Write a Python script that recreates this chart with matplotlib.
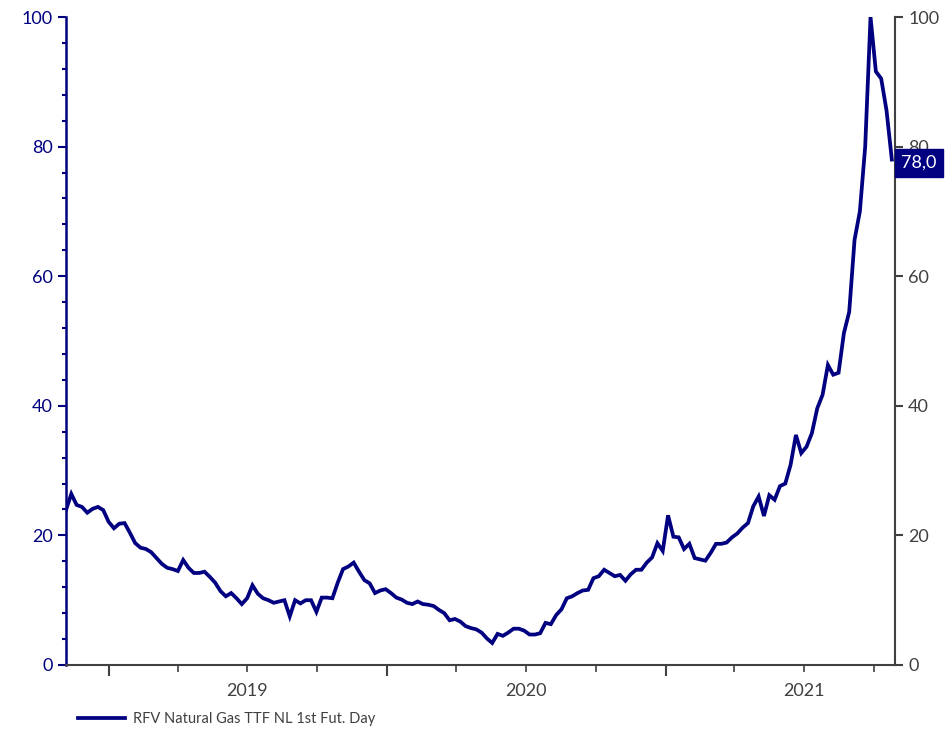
#!/usr/bin/env python3
"""Weekly TTF front-month gas price, late 2018 to late 2021."""

import matplotlib

matplotlib.use("Agg")
import matplotlib.dates as mdates
import matplotlib.pyplot as plt
from matplotlib.ticker import FuncFormatter, MultipleLocator
import pandas as pd

NAVY = "#000080"
GREY = "#404040"

plt.rcParams["font.family"] = ["Lato", "DejaVu Sans"]

SERIES_NAME = "RFV Natural Gas TTF NL 1st Fut. Day"
START = "2018-11-05"
LAST_LABEL = "78,0"

# weekly closes
ttf = [
    23.9, 26.4, 24.7, 24.4, 23.5, 24.1, 24.4, 23.9, 22.1, 21.1,
    21.8, 21.9, 20.4, 18.8, 18.1, 17.9, 17.4, 16.5, 15.6, 15.0,
    14.8, 14.5, 16.2, 15.0, 14.2, 14.2, 14.4, 13.6, 12.7, 11.4,
    10.6, 11.1, 10.3, 9.4, 10.3, 12.3, 11.0, 10.3, 10.0, 9.6,
    9.8, 10.0, 7.5, 10.0, 9.5, 10.0, 10.0, 8.2, 10.4, 10.4,
    10.3, 12.7, 14.8, 15.2, 15.8, 14.4, 13.1, 12.6, 11.1, 11.5,
    11.7, 11.1, 10.4, 10.1, 9.6, 9.4, 9.8, 9.4, 9.3, 9.1,
    8.5, 8.0, 6.9, 7.1, 6.7, 6.0, 5.7, 5.5, 5.0, 4.1,
    3.4, 4.8, 4.5, 5.0, 5.6, 5.6, 5.3, 4.7, 4.7, 4.9,
    6.5, 6.3, 7.7, 8.6, 10.3, 10.6, 11.1, 11.5, 11.6, 13.4,
    13.7, 14.7, 14.2, 13.7, 13.9, 13.0, 14.0, 14.7, 14.7, 15.8,
    16.6, 18.8, 17.6, 23.1, 19.8, 19.7, 17.9, 18.7, 16.5, 16.3,
    16.1, 17.3, 18.7, 18.7, 18.9, 19.7, 20.3, 21.2, 21.9, 24.5,
    26.0, 23.0, 26.2, 25.5, 27.6, 28.0, 30.9, 35.5, 32.7, 33.7,
    35.8, 39.6, 41.7, 46.3, 44.8, 45.1, 51.2, 54.5, 65.6, 70.0,
    80.0, 100.0, 91.6, 90.5, 85.6, 78.0,
]

dates = pd.date_range(START, periods=len(ttf), freq="7D")

fig = plt.figure(figsize=(9.52, 7.31), dpi=100)
ax = fig.add_axes([0.0693, 0.0903, 0.8707, 0.8864])
ax.plot(dates, ttf, color=NAVY, lw=2.7, solid_joinstyle="miter", label=SERIES_NAME, zorder=3)

ax.set_xlim(dates[0], dates[-1] + pd.Timedelta(days=4))
ax.set_ylim(0, 100)

# left axis: navy, minor every 4
ax.yaxis.set_major_locator(MultipleLocator(20))
ax.yaxis.set_minor_locator(MultipleLocator(4))
ax.tick_params(axis="y", which="major", colors=NAVY, labelsize=13, length=6, width=1.5)
ax.tick_params(axis="y", which="minor", colors=NAVY, length=3, width=1.5)
ax.spines["left"].set_color(NAVY)
ax.spines["left"].set_linewidth(1.8)
ax.spines["top"].set_visible(False)
ax.spines["right"].set_visible(False)
ax.spines["bottom"].set_color(GREY)
ax.spines["bottom"].set_linewidth(1.5)

# x axis: long ticks at year boundaries, short at quarters, year labels mid-year
ax.xaxis.set_major_locator(mdates.YearLocator())
ax.xaxis.set_major_formatter(FuncFormatter(lambda v, p: ""))
ax.xaxis.set_minor_locator(mdates.MonthLocator(bymonth=[4, 7, 10]))
ax.xaxis.set_minor_formatter(
    FuncFormatter(lambda v, p: str(mdates.num2date(v).year) if mdates.num2date(v).month == 7 else "")
)
ax.tick_params(axis="x", which="major", colors=GREY, length=8, width=1.5)
ax.tick_params(axis="x", which="minor", colors=GREY, length=5, width=1.2, labelsize=13, pad=8)

# right axis: grey, no minor ticks
ax2 = ax.twinx()
ax2.set_ylim(0, 100)
ax2.yaxis.set_major_locator(MultipleLocator(20))
ax2.tick_params(axis="y", colors=GREY, labelsize=13, length=6, width=1.5)
for side in ("top", "left", "bottom"):
    ax2.spines[side].set_visible(False)
ax2.spines["right"].set_color(GREY)
ax2.spines["right"].set_linewidth(1.5)

# last value tag, sits over the 80 label like in the source chart
ax2.annotate(
    LAST_LABEL,
    xy=(1.0, ttf[-1] - 0.5),
    xycoords=("axes fraction", "data"),
    xytext=(4.5, 0),
    textcoords="offset points",
    ha="left",
    va="center",
    fontsize=13,
    color="white",
    bbox=dict(boxstyle="square,pad=0.35", fc=NAVY, ec=NAVY),
    zorder=5,
    annotation_clip=False,
)

fig.legend(
    handles=ax.get_lines(),
    loc="lower left",
    bbox_to_anchor=(0.068, -0.011),
    frameon=False,
    fontsize=10.5,
    labelcolor=GREY,
    handlelength=3.2,
    handletextpad=0.6,
)

fig.savefig("out.png", dpi=100)
